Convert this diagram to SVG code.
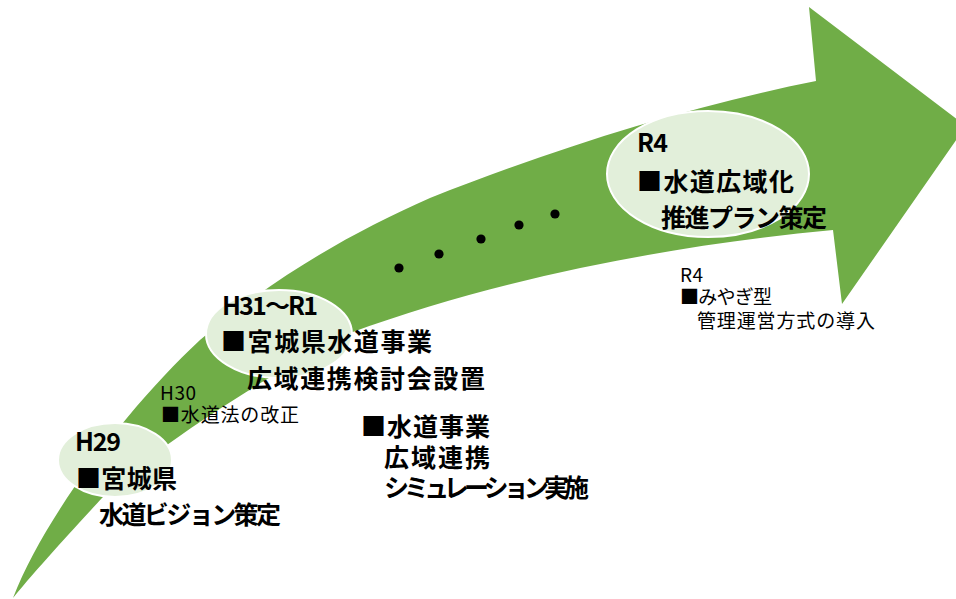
<svg xmlns="http://www.w3.org/2000/svg" width="956" height="599" viewBox="0 0 956 599">
<style>
.arrow{fill:#70AD47;stroke:none}
.bubble{fill:#E2EFDA;stroke:#FFFFFF;stroke-width:2}
.dot{fill:#000000}
.b{font-family:"Noto Sans CJK JP","Noto Sans",sans-serif;font-weight:bold;font-size:25px;fill:#000000}
.s{font-family:"Noto Sans CJK JP","Noto Sans",sans-serif;font-weight:normal;font-size:19px;fill:#000000}
</style>
<rect width="956" height="599" fill="#FFFFFF"/>
<g id="connectors">
<path class="arrow" d="M13,598 C45,515 130,405 200,340 C275,276 355,231 430,198 C560,147 686,107 816,81 L809,7 L966,126 L842,304 L833,230 C673,245 500,278 350,333 C290,362 155,445 102,498 C80,522 40,565 13,598 Z"/>
<g id="dots">
<circle class="dot" cx="399" cy="268" r="4.6"/>
<circle class="dot" cx="439" cy="254" r="4.6"/>
<circle class="dot" cx="481" cy="239" r="4.6"/>
<circle class="dot" cx="519" cy="225" r="4.6"/>
<circle class="dot" cx="555" cy="214" r="4.6"/>
</g>
</g>
<g id="node-h29">
<ellipse class="bubble" cx="115" cy="460" rx="57" ry="37"/>
<text class="b" x="75" y="451" textLength="46" lengthAdjust="spacing">H29</text>
<text class="b" x="76" y="488" textLength="101" lengthAdjust="spacing">■宮城県</text>
<text class="b" x="99" y="524" textLength="182" lengthAdjust="spacing">水道ビジョン策定</text>
</g>
<g id="node-h30">
<text class="s" x="160" y="400" textLength="36" lengthAdjust="spacing">H30</text>
<text class="s" x="161" y="422" textLength="138" lengthAdjust="spacing">■水道法の改正</text>
</g>
<g id="node-h31">
<ellipse class="bubble" cx="279" cy="334" rx="73" ry="44"/>
<text class="b" x="222" y="315" textLength="96" lengthAdjust="spacing">H31～R1</text>
<text class="b" x="221" y="351" textLength="211" lengthAdjust="spacing">■宮城県水道事業</text>
<text class="b" x="247" y="388" textLength="238" lengthAdjust="spacing">広域連携検討会設置</text>
</g>
<g id="node-simulation">
<text class="b" x="361" y="436" textLength="129" lengthAdjust="spacing">■水道事業</text>
<text class="b" x="384" y="467" textLength="106" lengthAdjust="spacing">広域連携</text>
<text class="b" x="384" y="497" textLength="205" lengthAdjust="spacing">シミュレーション実施</text>
</g>
<g id="node-r4-plan">
<ellipse class="bubble" cx="708" cy="174" rx="101" ry="63"/>
<text class="b" x="637" y="152" textLength="31" lengthAdjust="spacing">R4</text>
<text class="b" x="637" y="191" textLength="157" lengthAdjust="spacing">■水道広域化</text>
<text class="b" x="661" y="227" textLength="166" lengthAdjust="spacing">推進プラン策定</text>
</g>
<g id="node-r4-miyagi">
<text class="s" x="680" y="282" textLength="23" lengthAdjust="spacing">R4</text>
<text class="s" x="680" y="304" textLength="92" lengthAdjust="spacing">■みやぎ型</text>
<text class="s" x="697" y="328" textLength="178" lengthAdjust="spacing">管理運営方式の導入</text>
</g>
</svg>
